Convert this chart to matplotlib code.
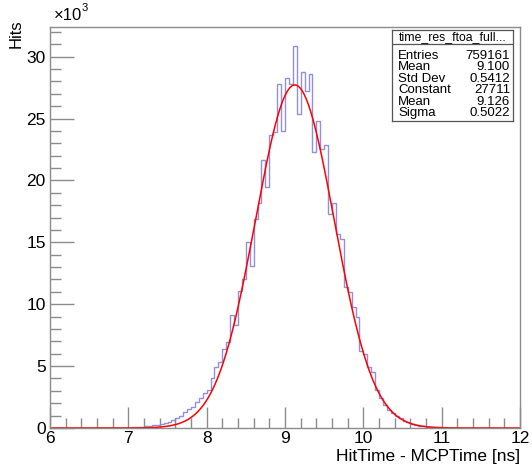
import numpy as np
import matplotlib
matplotlib.use('Agg')
import matplotlib.pyplot as plt
from matplotlib.ticker import MultipleLocator

plt.rcParams['font.family'] = ['Liberation Sans', 'DejaVu Sans']

# histogram: 120 bins of 0.05 ns from 6 to 12 (counts)
edges = np.linspace(6, 12, 121)
counts = [
    0, 0, 1, 0, 1, 1, 2, 1, 2, 3,
    3, 4, 5, 7, 9, 12, 15, 20, 25, 32,
    40, 60, 80, 100, 130, 170, 210, 260, 330, 420,
    520, 640, 800, 1000, 1300, 1540, 1720, 2130, 2400, 2800,
    3070, 4020, 4910, 5370, 6360, 6980, 9140, 8330, 11030, 12000,
    14990, 13100, 16880, 18180, 21680, 19440, 23700, 23900, 27750, 23970,
    28290, 27800, 30850, 25400, 28770, 27210, 28610, 22300, 24800, 22500,
    22900, 17310, 18180, 15690, 15260, 11430, 11000, 9810, 9000, 6250,
    6000, 4960, 4560, 3100, 2400, 1860, 1460, 1190, 970, 780,
    600, 480, 360, 270, 200, 150, 110, 80, 60, 45,
    32, 24, 18, 12, 9, 6, 4, 3, 2, 2,
    1, 1, 1, 0, 1, 0, 0, 0, 0, 0,
]

# gaussian fit parameters (from the stats box)
fit_const = 27711
fit_mean = 9.126
fit_sigma = 0.5022

stat_labels = ['Entries', 'Mean', 'Std Dev', 'Constant', 'Mean', 'Sigma']
stat_values = ['759161', '9.100', '0.5412', '27711', '9.126', '0.5022']
stat_title = 'time_res_ftoa_full...'

W, H = 532, 467
fig = plt.figure(figsize=(W / 100, H / 100), dpi=100)
ax = fig.add_axes([50 / W, 1 - 428 / H, 470 / W, 401 / H])

counts = np.array(counts) / 1000.0
ax.stairs(counts, edges, color='#9090dc', lw=1.0)

xf = np.linspace(6, 12, 600)
yf = fit_const * np.exp(-0.5 * ((xf - fit_mean) / fit_sigma) ** 2) / 1000.0
ax.plot(xf, yf, color='red', lw=1.1)

ax.set_xlim(6, 12)
ax.set_ylim(0, counts.max() * 1.05)

frame_col = '#8c8c8c'
for s in ax.spines.values():
    s.set_color(frame_col)
    s.set_linewidth(1.0)

ax.xaxis.set_major_locator(MultipleLocator(1))
ax.xaxis.set_minor_locator(MultipleLocator(0.2))
ax.yaxis.set_major_locator(MultipleLocator(5))
ax.yaxis.set_minor_locator(MultipleLocator(1))
ax.tick_params(which='both', direction='in', color=frame_col, width=1.0,
               labelsize=12.5, labelcolor='black')
ax.tick_params(axis='x', which='major', length=15, pad=2)
ax.tick_params(axis='x', which='minor', length=7.5)
ax.tick_params(axis='y', which='major', length=17, pad=3)
ax.tick_params(axis='y', which='minor', length=8)

# axis titles, ROOT style (right/top aligned)
fig.text(520 / W, 1 - 456 / H, 'HitTime - MCPTime [ns]', ha='right', va='center',
         fontsize=12.5)
fig.text(16 / W, 1 - 19 / H, 'Hits', rotation=90, ha='center', va='top', fontsize=12)
fig.text(54 / W, 1 - 16 / H, '\u00d710', ha='left', va='center', fontsize=12)
fig.text(82 / W, 1 - 8 / H, '3', ha='left', va='center', fontsize=8)

# stats box
bx0, bx1, by0, by1 = 392, 513, 30, 121
ax_box = fig.add_axes([bx0 / W, 1 - by1 / H, (bx1 - bx0) / W, (by1 - by0) / H])
ax_box.set_xticks([])
ax_box.set_yticks([])
for s in ax_box.spines.values():
    s.set_color('#555555')
    s.set_linewidth(0.9)
ax_box.set_xlim(bx0, bx1)
ax_box.set_ylim(by1, by0)
ax_box.axhline(44.5, color='#555555', lw=0.9)
ax_box.text((bx0 + bx1) / 2, 37.5, stat_title, ha='center', va='center', fontsize=8.8)
row_y = [56, 67.5, 79, 90.5, 102, 113.5]
for lab, val, yy in zip(stat_labels, stat_values, row_y):
    ax_box.text(398, yy, lab, ha='left', va='center', fontsize=9.5)
    ax_box.text(510, yy, val, ha='right', va='center', fontsize=9.5)

fig.savefig('out.png', dpi=100)
